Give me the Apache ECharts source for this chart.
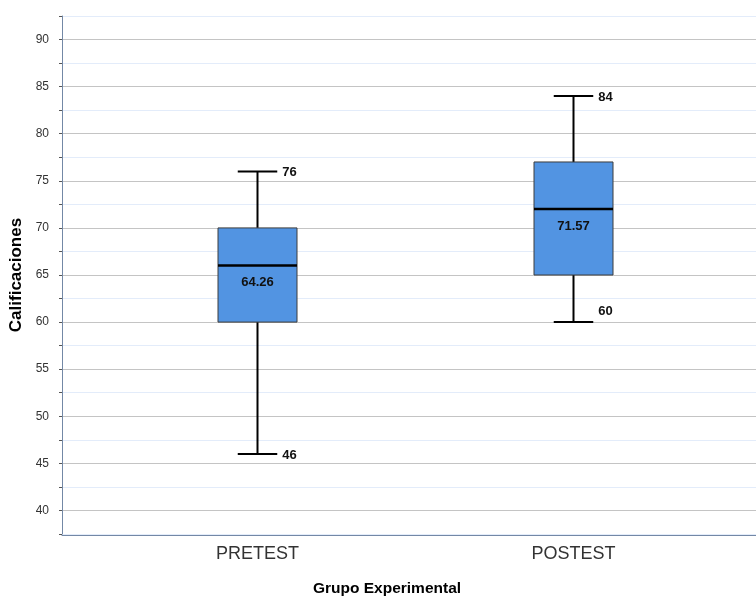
<!DOCTYPE html>
<html>
<head>
<meta charset="utf-8">
<title>Calificaciones</title>
<script src="https://cdn.jsdelivr.net/npm/echarts@6/dist/echarts.min.js"></script>
<style>
  html, body { margin: 0; padding: 0; background: #fff; }
  #chart { width: 756px; height: 598px; }
</style>
</head>
<body>
<div id="chart"></div>
<script>
// data
var groups = ['PRETEST', 'POSTEST'];
var mins = [46, 60];
var q1s = [60, 65];
var medians = [66, 72];
var q3s = [70, 77];
var maxs = [76, 84];
var means = [64.26, 71.57];
var majorTicks = [40, 45, 50, 55, 60, 65, 70, 75, 80, 85, 90];

var FONT = '"Liberation Sans", Arial, sans-serif';
var yMin = 37.5, yMax = 92.5;

var boxData = [];
for (var i = 0; i < groups.length; i++) {
    boxData.push([i, mins[i], q1s[i], medians[i], q3s[i], maxs[i], means[i]]);
}

// min-whisker label of POSTEST sits a bit above its cap
var minLabelShift = [0, -12];

function renderBox(params, api) {
    var x = api.value(0);
    var band = api.size([1, 0])[0];
    var bw = band * 0.25;
    var pMin = api.coord([x, api.value(1)]);
    var pQ1 = api.coord([x, api.value(2)]);
    var pMed = api.coord([x, api.value(3)]);
    var pQ3 = api.coord([x, api.value(4)]);
    var pMax = api.coord([x, api.value(5)]);
    var cx = pMed[0];
    var lineStyle = { stroke: '#000', lineWidth: 2 };
    var labelFont = 'bold 13px ' + FONT;
    return {
        type: 'group',
        children: [
            { type: 'line', shape: { x1: cx, y1: pMax[1], x2: cx, y2: pQ3[1] }, style: lineStyle },
            { type: 'line', shape: { x1: cx, y1: pQ1[1], x2: cx, y2: pMin[1] }, style: lineStyle },
            { type: 'line', shape: { x1: cx - bw / 4, y1: pMax[1], x2: cx + bw / 4, y2: pMax[1] }, style: lineStyle },
            { type: 'line', shape: { x1: cx - bw / 4, y1: pMin[1], x2: cx + bw / 4, y2: pMin[1] }, style: lineStyle },
            { type: 'rect', shape: { x: cx - bw / 2, y: pQ3[1], width: bw, height: pQ1[1] - pQ3[1] },
              style: { fill: '#5294e2', stroke: '#3c3c3c', lineWidth: 1 } },
            { type: 'line', shape: { x1: cx - bw / 2, y1: pMed[1], x2: cx + bw / 2, y2: pMed[1] },
              style: { stroke: '#000', lineWidth: 2.5 } },
            { type: 'text', x: cx, y: pMed[1] + 17,
              style: { text: String(api.value(6)), font: labelFont, fill: '#111', align: 'center', verticalAlign: 'middle' } },
            { type: 'text', x: cx + bw / 4 + 5, y: pMax[1] + 1,
              style: { text: String(api.value(5)), font: labelFont, fill: '#111', align: 'left', verticalAlign: 'middle' } },
            { type: 'text', x: cx + bw / 4 + 5, y: pMin[1] + 1 + minLabelShift[params.dataIndex],
              style: { text: String(api.value(1)), font: labelFont, fill: '#111', align: 'left', verticalAlign: 'middle' } }
        ]
    };
}

var chart = echarts.init(document.getElementById('chart'));
chart.setOption({
    animation: false,
    textStyle: { fontFamily: FONT },
    grid: [
        { left: 62, right: 0, top: 16, bottom: 64 },
        { left: 99.5, right: 24.5, top: 16, bottom: 64 }
    ],
    xAxis: [
        { gridIndex: 0, type: 'value', min: 0, max: 1, offset: 1,
          axisLine: { show: true, lineStyle: { color: '#7388a6', width: 1 } },
          axisTick: { show: false }, axisLabel: { show: false }, splitLine: { show: false } },
        { gridIndex: 1, type: 'category', data: groups,
          axisLine: { show: false }, axisTick: { show: false },
          axisLabel: { color: '#333', fontSize: 18, margin: 11, fontFamily: FONT } }
    ],
    yAxis: [
        { gridIndex: 0, type: 'value', min: yMin, max: yMax, interval: 2.5,
          name: 'Calificaciones', nameLocation: 'middle', nameGap: 37, nameMoveOverlap: false,
          nameTextStyle: { color: '#000', fontSize: 17, fontWeight: 'bold', fontFamily: FONT },
          axisLine: { show: true, lineStyle: { color: '#7388a6', width: 1 } },
          axisTick: { show: true, length: 3, lineStyle: { color: '#555' } },
          axisLabel: { color: '#333', fontSize: 12, margin: 13, fontFamily: FONT,
                       formatter: function (v) { return v % 5 === 0 ? String(v) : ''; } },
          splitLine: { show: true, lineStyle: { color: ['#e3ecfa', '#c4c4c4'], width: 1 } } },
        { gridIndex: 0, type: 'value', min: yMin, max: yMax, interval: 2.5,
          axisLine: { show: false }, axisLabel: { show: false }, splitLine: { show: false },
          axisTick: { show: true, length: 6, customValues: majorTicks, lineStyle: { color: '#c4c4c4' } } },
        { gridIndex: 1, type: 'value', min: yMin, max: yMax, show: false }
    ],
    graphic: [
        { type: 'text', x: 387, y: 589,
          style: { text: 'Grupo Experimental', font: 'bold 15.5px ' + FONT, fill: '#000',
                   align: 'center', verticalAlign: 'middle' } }
    ],
    series: [
        { type: 'custom', xAxisIndex: 1, yAxisIndex: 2,
          encode: { x: 0, y: [1, 2, 3, 4, 5] },
          renderItem: renderBox, data: boxData, z: 5 }
    ]
});
</script>
</body>
</html>
